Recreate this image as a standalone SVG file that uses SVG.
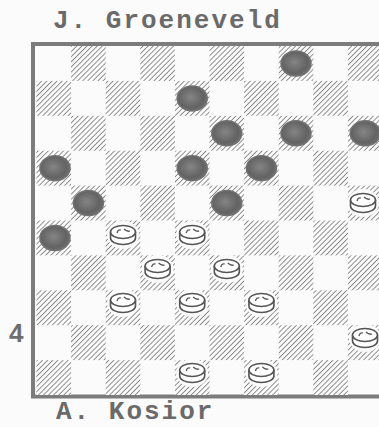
<svg xmlns="http://www.w3.org/2000/svg" width="379" height="427" viewBox="0 0 379 427">
<style>
.name{font-family:"Liberation Mono","DejaVu Sans Mono",monospace;font-weight:bold;font-size:26px;fill:#6a6a6a;letter-spacing:2px}
.num{font-family:"Liberation Sans","DejaVu Sans",sans-serif;font-weight:bold;font-size:26px;fill:#6e6e6e}
.dk{fill:url(#hatch)}
.bp{fill:url(#bgrad);stroke:#727272;stroke-width:1.5}
.wl{fill:#fff;stroke:#555;stroke-width:1.6;stroke-linejoin:round}
.halo{fill:#fbfbfb}
</style>
<defs>
<pattern id="hatch" patternUnits="userSpaceOnUse" width="3.6" height="3.6" patternTransform="rotate(45)">
<rect width="3.6" height="3.6" fill="#fbfbfb"/>
<line x1="0" y1="0" x2="0" y2="3.6" stroke="#6e6e6e" stroke-width="1.5"/>
</pattern>
<radialGradient id="bgrad" cx="0.45" cy="0.45" r="0.6">
<stop offset="0" stop-color="#858585"/>
<stop offset="0.7" stop-color="#636363"/>
<stop offset="1" stop-color="#707070"/>
</radialGradient>
<g id="black">
<ellipse class="bp" cx="0" cy="0" rx="15" ry="12.5"/>
</g>
<g id="white">
<ellipse class="halo" cx="0" cy="0" rx="16" ry="14"/>
<path class="wl" d="M-12.5,-3 L-12.5,3 A12.5,6.5 0 0 0 12.5,3 L12.5,-3"/>
<ellipse class="wl" cx="0" cy="-3" rx="12.5" ry="6.5"/>
<path d="M-6,-2 Q-5,-6 -2,-5 M1,-6 Q4,-3 7,-4" fill="none" stroke="#555" stroke-width="1.3"/>
</g>
</defs>
<rect width="379" height="427" fill="#fbfbfb"/>
<g id="labels">
<text class="name" x="53" y="28">J. Groeneveld</text>
<text class="name" x="56" y="419">A. Kosior</text>
<text class="num" x="9" y="342">4</text>
</g>
<g id="board">
<rect x="33" y="44" width="360" height="352.5" fill="#fbfbfb" stroke="#7c7c7c" stroke-width="4"/>
<g id="darksquares">
<rect class="dk" x="71.1" y="46" width="34.6" height="34.9"/><rect class="dk" x="140.3" y="46" width="34.6" height="34.9"/><rect class="dk" x="209.5" y="46" width="34.6" height="34.9"/><rect class="dk" x="278.7" y="46" width="34.6" height="34.9"/><rect class="dk" x="347.9" y="46" width="34.6" height="34.9"/>
<rect class="dk" x="36.5" y="80.9" width="34.6" height="34.9"/><rect class="dk" x="105.7" y="80.9" width="34.6" height="34.9"/><rect class="dk" x="174.9" y="80.9" width="34.6" height="34.9"/><rect class="dk" x="244.1" y="80.9" width="34.6" height="34.9"/><rect class="dk" x="313.3" y="80.9" width="34.6" height="34.9"/>
<rect class="dk" x="71.1" y="115.8" width="34.6" height="34.9"/><rect class="dk" x="140.3" y="115.8" width="34.6" height="34.9"/><rect class="dk" x="209.5" y="115.8" width="34.6" height="34.9"/><rect class="dk" x="278.7" y="115.8" width="34.6" height="34.9"/><rect class="dk" x="347.9" y="115.8" width="34.6" height="34.9"/>
<rect class="dk" x="36.5" y="150.7" width="34.6" height="34.9"/><rect class="dk" x="105.7" y="150.7" width="34.6" height="34.9"/><rect class="dk" x="174.9" y="150.7" width="34.6" height="34.9"/><rect class="dk" x="244.1" y="150.7" width="34.6" height="34.9"/><rect class="dk" x="313.3" y="150.7" width="34.6" height="34.9"/>
<rect class="dk" x="71.1" y="185.6" width="34.6" height="34.9"/><rect class="dk" x="140.3" y="185.6" width="34.6" height="34.9"/><rect class="dk" x="209.5" y="185.6" width="34.6" height="34.9"/><rect class="dk" x="278.7" y="185.6" width="34.6" height="34.9"/><rect class="dk" x="347.9" y="185.6" width="34.6" height="34.9"/>
<rect class="dk" x="36.5" y="220.5" width="34.6" height="34.9"/><rect class="dk" x="105.7" y="220.5" width="34.6" height="34.9"/><rect class="dk" x="174.9" y="220.5" width="34.6" height="34.9"/><rect class="dk" x="244.1" y="220.5" width="34.6" height="34.9"/><rect class="dk" x="313.3" y="220.5" width="34.6" height="34.9"/>
<rect class="dk" x="71.1" y="255.4" width="34.6" height="34.9"/><rect class="dk" x="140.3" y="255.4" width="34.6" height="34.9"/><rect class="dk" x="209.5" y="255.4" width="34.6" height="34.9"/><rect class="dk" x="278.7" y="255.4" width="34.6" height="34.9"/><rect class="dk" x="347.9" y="255.4" width="34.6" height="34.9"/>
<rect class="dk" x="36.5" y="290.3" width="34.6" height="34.9"/><rect class="dk" x="105.7" y="290.3" width="34.6" height="34.9"/><rect class="dk" x="174.9" y="290.3" width="34.6" height="34.9"/><rect class="dk" x="244.1" y="290.3" width="34.6" height="34.9"/><rect class="dk" x="313.3" y="290.3" width="34.6" height="34.9"/>
<rect class="dk" x="71.1" y="325.2" width="34.6" height="34.9"/><rect class="dk" x="140.3" y="325.2" width="34.6" height="34.9"/><rect class="dk" x="209.5" y="325.2" width="34.6" height="34.9"/><rect class="dk" x="278.7" y="325.2" width="34.6" height="34.9"/><rect class="dk" x="347.9" y="325.2" width="34.6" height="34.9"/>
<rect class="dk" x="36.5" y="360.1" width="34.6" height="34.9"/><rect class="dk" x="105.7" y="360.1" width="34.6" height="34.9"/><rect class="dk" x="174.9" y="360.1" width="34.6" height="34.9"/><rect class="dk" x="244.1" y="360.1" width="34.6" height="34.9"/><rect class="dk" x="313.3" y="360.1" width="34.6" height="34.9"/>
</g>
</g>
<g id="black-pieces">
<g id="b-r0c7"><use href="#black" x="296" y="63.5"/></g>
<g id="b-r1c4"><use href="#black" x="192.2" y="98.4"/></g>
<g id="b-r2c5"><use href="#black" x="226.8" y="133.3"/></g>
<g id="b-r2c7"><use href="#black" x="296" y="133.3"/></g>
<g id="b-r2c9"><use href="#black" x="365.2" y="133.3"/></g>
<g id="b-r3c0"><use href="#black" x="55" y="168.2"/></g>
<g id="b-r3c4"><use href="#black" x="192.2" y="168.2"/></g>
<g id="b-r3c6"><use href="#black" x="261.4" y="168.2"/></g>
<g id="b-r4c1"><use href="#black" x="88.4" y="203.1"/></g>
<g id="b-r4c5"><use href="#black" x="226.8" y="203.1"/></g>
<g id="b-r5c0"><use href="#black" x="55" y="238"/></g>
</g>
<g id="white-pieces">
<g id="w-r4c9"><use href="#white" x="363" y="203"/></g>
<g id="w-r5c2"><use href="#white" x="123" y="235"/></g>
<g id="w-r5c4"><use href="#white" x="192.2" y="235"/></g>
<g id="w-r6c3"><use href="#white" x="157.6" y="269"/></g>
<g id="w-r6c5"><use href="#white" x="226.8" y="269"/></g>
<g id="w-r7c2"><use href="#white" x="123" y="303"/></g>
<g id="w-r7c4"><use href="#white" x="192.2" y="303"/></g>
<g id="w-r7c6"><use href="#white" x="261.4" y="303"/></g>
<g id="w-r8c9"><use href="#white" x="365" y="338"/></g>
<g id="w-r9c4"><use href="#white" x="192.2" y="373"/></g>
<g id="w-r9c6"><use href="#white" x="261.4" y="373"/></g>
</g>
<g id="connectors"/>
</svg>
